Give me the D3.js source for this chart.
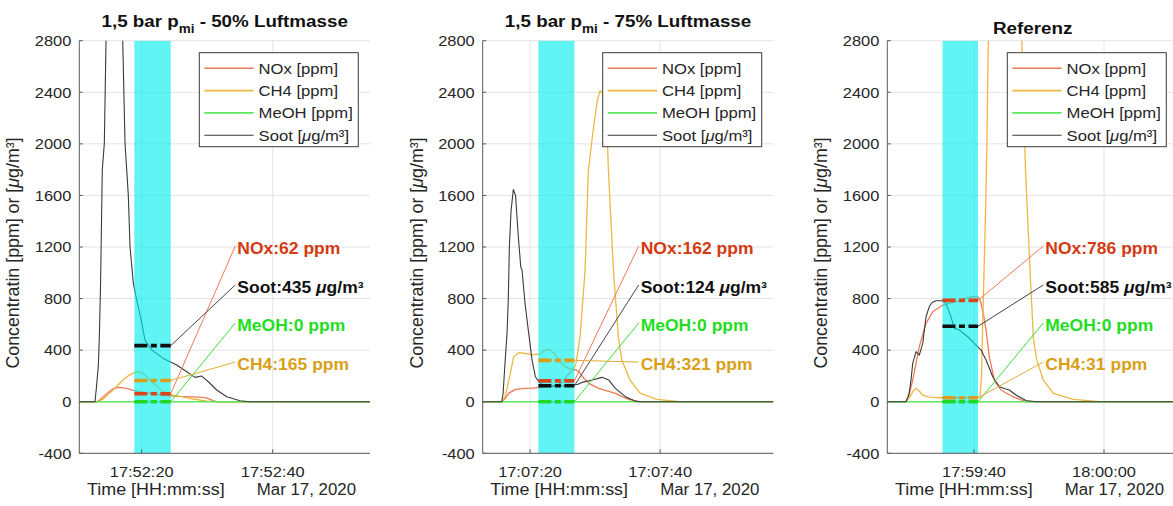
<!DOCTYPE html>
<html><head><meta charset="utf-8">
<script src="https://cdn.jsdelivr.net/npm/d3@7"></script>
<style>
body{margin:0;background:#fff;}
svg{display:block;font-family:"Liberation Sans",Arial,Helvetica,sans-serif;}
</style>
</head><body>
<svg id="chart" width="1173" height="506"></svg>
<script>
// ---------------- DATA ----------------
const panelTitles = [
  ["1,5 bar p", "mi", " - 50% Luftmasse"],
  ["1,5 bar p", "mi", " - 75% Luftmasse"],
  ["Referenz", "", ""]
];
// reference tick (time 0) of each panel
const baseTimes = [[2020,2,17,17,52,20],[2020,2,17,17,7,20],[2020,2,17,17,59,40]];
// x range in seconds relative to base time
const xRangeSec = [[-9.53, 34.85], [-7.28, 37.42], [-13.34, 31.38]];
// averaging window (cyan band), seconds
const bandSec = [[-1.13, 4.43], [1.28, 6.82], [-4.85, 0.62]];

// series as [seconds, value]
const noxData = [
  [[-9.53,0],[-6.87,0],[-6.37,15],[-5.60,50],[-4.53,95],[-3.57,112],[-3.01,110],[-2.09,100],[-1.02,85],[0.50,70],[1.77,62],[3.56,48],[5.85,41],[7.83,38],[8.90,36],[9.97,28],[10.89,8],[11.50,0],[34.85,0]],
  [[-7.28,0],[-4.31,0],[-3.85,25],[-3.28,65],[-2.26,96],[-0.77,103],[0.31,105],[2.88,113],[3.85,120],[4.92,150],[5.69,200],[6.46,245],[6.92,250],[7.49,233],[8.15,190],[9.03,142],[10.57,104],[11.85,85],[13.12,65],[14.15,40],[15.18,19],[16.72,0],[37.42,0]],
  [[-13.34,0],[-10.46,0],[-10.0,50],[-9.43,168],[-8.92,300],[-8.42,427],[-7.89,520],[-7.38,608],[-6.35,698],[-4.82,750],[-2.77,776],[-1.38,800],[-0.31,815],[0.57,815],[0.92,790],[1.38,700],[1.85,556],[2.35,349],[3.12,168],[4.15,91],[5.95,39],[8.0,0],[31.38,0]]
];
const ch4Data = [
  [[-9.53,0],[-6.63,0],[-5.91,20],[-5.15,55],[-4.34,93],[-3.62,130],[-2.81,170],[-2.09,200],[-1.28,222],[-0.52,233],[0.05,225],[0.76,196],[1.42,160],[2.29,119],[2.95,90],[3.82,67],[4.78,52],[5.85,41],[7.83,21],[9.92,5],[11.19,0],[34.85,0]],
  [[-7.28,0],[-4.31,0],[-3.85,40],[-3.38,140],[-3.03,220],[-2.51,349],[-1.74,380],[-0.72,374],[0.31,366],[1.58,370],[2.15,395],[2.62,406],[3.08,400],[3.65,380],[4.15,345],[4.66,310],[5.43,271],[6.15,255],[6.77,262],[7.08,300],[7.43,420],[7.69,504],[8.46,1020],[8.97,1796],[9.65,2082],[10.35,2340],[10.77,2412],[11.38,2380],[11.89,2030],[12.05,1796],[12.82,1020],[13.58,504],[14.11,323],[15.38,168],[16.92,66],[19.49,19],[23.08,0],[37.42,0]],
  [[-13.34,0],[-10.46,0],[-9.85,40],[-9.38,80],[-8.92,104],[-8.46,85],[-7.89,52],[-6.88,36],[-5.23,31],[0.62,31],[0.92,35],[1.15,200],[1.38,700],[1.69,1300],[1.95,1900],[2.20,2800],[2.77,3600],[4.0,4000],[5.85,3800],[6.77,3300],[7.34,2800],[7.92,1800],[8.62,1020],[9.12,500],[9.65,323],[10.66,168],[12.2,65],[15.28,19],[19.38,0],[31.38,0]]
];
const meohData = [
  [[-9.53,0],[34.85,0]],
  [[-7.28,0],[37.42,0]],
  [[-13.34,0],[31.38,0]]
];
const sootData = [
  [[-9.53,0],[-7.13,0],[-6.90,120],[-6.63,274],[-6.47,504],[-6.29,900],[-6.02,1798],[-5.71,2004],[-5.45,2800],[-4.84,3300],[-4.23,3450],[-3.62,3300],[-2.90,2800],[-2.55,2004],[-2.29,1798],[-2.05,1603],[-1.79,1202],[-1.28,918],[-0.79,795],[-0.11,640],[0.50,478],[1.53,401],[3.30,336],[5.34,285],[6.87,233],[8.14,189],[9.16,199],[10.17,155],[11.45,91],[12.98,39],[15.01,8],[16.53,0],[34.85,0]],
  [[-7.28,0],[-4.35,0],[-4.15,60],[-3.85,300],[-3.54,530],[-3.34,800],[-3.18,1200],[-2.92,1480],[-2.57,1646],[-2.23,1600],[-1.80,1279],[-1.43,1046],[-1.23,1020],[-0.77,762],[-0.23,540],[0.31,323],[0.82,194],[1.34,155],[1.85,135],[3.08,125],[4.62,122],[6.15,125],[7.38,135],[8.0,150],[9.54,168],[11.08,189],[12.11,168],[13.12,104],[14.66,39],[16.15,5],[16.92,0],[37.42,0]],
  [[-13.34,0],[-10.46,0],[-10.0,60],[-9.69,168],[-9.43,298],[-8.92,388],[-8.42,362],[-7.89,453],[-7.38,659],[-6.88,737],[-6.46,770],[-5.85,783],[-4.82,783],[-4.31,763],[-3.54,659],[-3.03,569],[-2.26,556],[-0.97,504],[0.05,453],[1.08,401],[1.85,323],[2.88,194],[3.89,116],[4.77,100],[5.43,91],[6.46,52],[8.0,10],[9.54,0],[31.38,0]]
];
// mean values in the band
const meanNOx  = [62, 162, 786];
const meanSoot = [435, 124, 585];
const meanMeOH = [0, 0, 0];
const meanCH4  = [165, 321, 31];

const yTicks = [-400, 0, 400, 800, 1200, 1600, 2000, 2400, 2800];
const legendLabels = ["NOx [ppm]", "CH4 [ppm]", "MeOH [ppm]", "Soot [μg/m³]"];
// label anchor levels (data units) for NOx, Soot, MeOH, CH4
const labelLevels = [1192, 890, 595, 292];

// ---------------- STYLE / LAYOUT ----------------
const panelLeft = [79.3, 482.7, 887.3];
const plotW = 290.7, plotTop = 40.7, plotBottom = 453.3;
const SX = 1.08;
const col = {
  nox: "#EC7A55", ch4: "#ECB842", meoh: "#5EE65E", soot: "#3a3a3a",
  noxD: "#D9451A", ch4D: "#DA9E1A", meohD: "#22D822", sootD: "#111111",
  noxL: "#D33A12", ch4L: "#D9A01A", meohL: "#22DD22", sootL: "#111111"
};

const svg = d3.select("#chart");
const y = d3.scaleLinear().domain([-400, 2800]).range([plotBottom, plotTop]);

function sText(g, x, yy, anchor, size, weight, fill) {
  return g.append("text")
    .attr("transform", `translate(${x},${yy}) scale(${SX},1)`)
    .attr("text-anchor", anchor)
    .attr("font-size", size)
    .attr("font-weight", weight)
    .attr("fill", fill);
}

for (let p = 0; p < 3; p++) {
  const L = panelLeft[p];
  const bt = baseTimes[p];
  const base = new Date(bt[0], bt[1], bt[2], bt[3], bt[4], bt[5]);
  const toDate = s => new Date(base.getTime() + s * 1000);
  const x = d3.scaleTime().domain(xRangeSec[p].map(toDate)).range([L, L + plotW]);
  const g = svg.append("g");

  const clipId = "clip" + p;
  svg.append("clipPath").attr("id", clipId).append("rect")
    .attr("x", L).attr("y", plotTop).attr("width", plotW).attr("height", plotBottom - plotTop);

  // grid
  const xt = x.ticks(d3.timeSecond.every(20));
  g.selectAll(null).data(yTicks).join("line")
    .attr("x1", L).attr("x2", L + plotW).attr("y1", d => y(d)).attr("y2", d => y(d))
    .attr("stroke", "#e3e3e3").attr("stroke-width", 1);
  g.selectAll(null).data(xt).join("line")
    .attr("x1", d => x(d)).attr("x2", d => x(d)).attr("y1", plotTop).attr("y2", plotBottom)
    .attr("stroke", "#e3e3e3").attr("stroke-width", 1);

  // series lines
  const lineGen = d3.line().x(d => x(toDate(d[0]))).y(d => y(d[1]));
  const pg = g.append("g").attr("clip-path", `url(#${clipId})`);
  [[noxData[p], col.nox, 1.3], [ch4Data[p], col.ch4, 1.3], [meohData[p], col.meoh, 1.3], [sootData[p], col.soot, 1.1]]
    .forEach(([d, c, w]) => pg.append("path").attr("d", lineGen(d)).attr("fill", "none")
      .attr("stroke", c).attr("stroke-width", w).attr("stroke-linejoin", "round"));

  // band
  const bx0 = x(toDate(bandSec[p][0])), bx1 = x(toDate(bandSec[p][1]));
  pg.append("rect").attr("x", bx0).attr("y", plotTop).attr("width", bx1 - bx0)
    .attr("height", plotBottom - plotTop).attr("fill", "rgb(0,238,238)").attr("fill-opacity", 0.62);

  // mean dashes
  const dashes = [[meanMeOH[p], col.meohD], [meanCH4[p], col.ch4D], [meanNOx[p], col.noxD], [meanSoot[p], col.sootD]];
  dashes.forEach(([v, c]) => g.append("line").attr("x1", bx0).attr("x2", bx1)
    .attr("y1", y(v)).attr("y2", y(v)).attr("stroke", c).attr("stroke-width", 3.6)
    .attr("stroke-dasharray", "13,3.5,6,3.5"));

  // leader lines & labels
  const lx = L + plotW * 0.5435;
  const labels = [
    {v: meanNOx[p], lv: labelLevels[0], c: col.nox, tc: col.noxL, txt: `NOx:${meanNOx[p]} ppm`},
    {v: meanSoot[p], lv: labelLevels[1], c: "#444", tc: col.sootL, txt: `Soot:${meanSoot[p]} `, mu: true},
    {v: meanMeOH[p], lv: labelLevels[2], c: "#3BE03B", tc: col.meohL, txt: `MeOH:${meanMeOH[p]} ppm`},
    {v: meanCH4[p], lv: labelLevels[3], c: "#E3AC38", tc: col.ch4L, txt: `CH4:${meanCH4[p]} ppm`}
  ];
  labels.forEach(l => {
    g.append("line").attr("x1", bx1).attr("y1", y(l.v)).attr("x2", lx - 2).attr("y2", y(l.lv) - 2)
      .attr("stroke", l.c).attr("stroke-width", 1);
  });
  labels.forEach(l => {
    const t = sText(g, lx, y(l.lv) + 5.8, "start", 16.2, "bold", l.tc);
    t.append("tspan").text(l.txt);
    if (l.mu) {
      t.append("tspan").attr("font-style", "italic").text("μ");
      t.append("tspan").text("g/m³");
    }
  });

  // legend
  const lgX = L + 120, lgY = 52.7;
  g.append("rect").attr("x", lgX).attr("y", lgY).attr("width", 159).attr("height", 94)
    .attr("fill", "#fff").attr("stroke", "#3a3a3a").attr("stroke-width", 1);
  const lgCols = [col.nox, col.ch4, col.meoh, col.soot];
  legendLabels.forEach((lab, i) => {
    const ry = lgY + 15.6 + i * 22.3;
    g.append("line").attr("x1", lgX + 5).attr("x2", lgX + 54.3).attr("y1", ry).attr("y2", ry)
      .attr("stroke", lgCols[i]).attr("stroke-width", i === 3 ? 1.1 : 1.6);
    const t = sText(g, lgX + 59.3, ry + 5.4, "start", 15.4, "normal", "#262626");
    if (lab.includes("μ")) {
      const parts = lab.split("μ");
      t.append("tspan").text(parts[0]);
      t.append("tspan").attr("font-style", "italic").text("μ");
      t.append("tspan").text(parts[1]);
    } else t.text(lab);
  });

  // axes lines
  g.append("line").attr("x1", L).attr("x2", L).attr("y1", plotTop).attr("y2", plotBottom)
    .attr("stroke", "#5a5a5a").attr("stroke-width", 1);
  g.append("line").attr("x1", L).attr("x2", L + plotW).attr("y1", plotBottom).attr("y2", plotBottom)
    .attr("stroke", "#5a5a5a").attr("stroke-width", 1);
  // ticks (inward)
  g.selectAll(null).data(yTicks).join("line")
    .attr("x1", L).attr("x2", L + 3.5).attr("y1", d => y(d)).attr("y2", d => y(d))
    .attr("stroke", "#5a5a5a");
  g.selectAll(null).data(xt).join("line")
    .attr("x1", d => x(d)).attr("x2", d => x(d)).attr("y1", plotBottom).attr("y2", plotBottom - 4)
    .attr("stroke", "#5a5a5a");
  // tick labels
  yTicks.forEach(v => sText(g, L - 8, y(v) + 5.3, "end", 15.2, "normal", "#262626").text(v));
  const fmt = d3.timeFormat("%H:%M:%S");
  xt.forEach(d => sText(g, x(d), plotBottom + 23.4, "middle", 15.2, "normal", "#262626").text(fmt(d)));

  // x label and date
  sText(g, L + plotW / 2, 495, "end", 16.6, "normal", "#262626").text("Time [HH:mm:ss]");
  sText(g, L + plotW - 14, 495, "end", 15.6, "normal", "#262626").text(d3.timeFormat("%b %-d, %Y")(base));

  // y label
  const yl = g.append("text")
    .attr("transform", `translate(${L - 60},${(plotTop + plotBottom) / 2 + 6}) rotate(-90)`)
    .attr("text-anchor", "middle").attr("font-size", 17.8).attr("fill", "#262626");
  yl.append("tspan").text("Concentratin [ppm] or [");
  yl.append("tspan").attr("font-style", "italic").text("μ");
  yl.append("tspan").text("g/m³]");

  // title
  const tt = panelTitles[p];
  const tl = sText(g, L + plotW / 2, tt[1] ? 26.7 : 33.5, "middle", 17.4, "bold", "#111");
  tl.append("tspan").text(tt[0]);
  if (tt[1]) {
    tl.append("tspan").attr("dy", 6.5).attr("font-size", 12.5).text(tt[1]);
    tl.append("tspan").attr("dy", -6.5).text(tt[2]);
  }
}
</script>
</body></html>
